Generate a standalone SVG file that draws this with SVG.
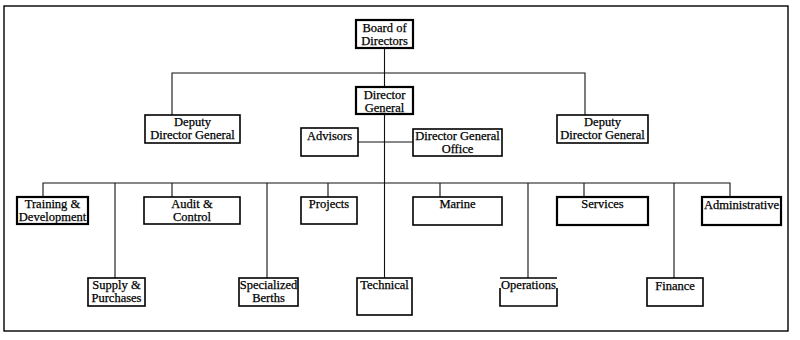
<svg xmlns="http://www.w3.org/2000/svg" width="800" height="340" viewBox="0 0 800 340">
<style>
.bx{fill:#fff;stroke:#000;stroke-width:1.6}
.thick{stroke-width:2.2}
.ln{fill:none;stroke:#111;stroke-width:1.1}
text{font-family:"Liberation Serif","Times New Roman",serif;font-size:12.5px;fill:#000;stroke:#000;stroke-width:0.25;text-anchor:middle}
</style>
<rect x="0" y="0" width="800" height="340" fill="#fff"/>
<rect x="4" y="6" width="784" height="325" fill="none" stroke="#000" stroke-width="1.4"/>
<g id="connectors" class="ln">
<path d="M384.5 48V87M172 115V73H585V115M384.5 114V278M358 142H413M43 197V183H730V197M115 183V278M172 183V197M267 183V278M328 183V197M440 183V197M528 183V278M584 183V197M674 183V278"/>
</g>
<g id="board"><rect class="bx thick" x="356" y="20" width="57" height="28"/><text x="384.5" y="32">Board of</text><text x="384.5" y="45">Directors</text></g>
<g id="dg"><rect class="bx thick" x="356" y="87" width="57" height="27"/><text x="384.5" y="99">Director</text><text x="384.5" y="112">General</text></g>
<g id="ddg-left"><rect class="bx" x="145" y="115" width="95" height="28"/><text x="192.5" y="126">Deputy</text><text x="192.5" y="139">Director General</text></g>
<g id="ddg-right"><rect class="bx" x="557" y="115" width="91" height="28"/><text x="602.5" y="126">Deputy</text><text x="602.5" y="139">Director General</text></g>
<g id="advisors"><rect class="bx" x="301" y="128" width="57" height="28"/><text x="329.5" y="140">Advisors</text></g>
<g id="dg-office"><rect class="bx" x="413" y="129" width="89" height="27"/><text x="457.5" y="140">Director General</text><text x="457.5" y="153">Office</text></g>
<g id="training"><rect class="bx thick" x="17" y="197" width="71" height="27"/><text x="52.5" y="208">Training &amp;</text><text x="52.5" y="221">Development</text></g>
<g id="audit"><rect class="bx" x="144" y="197" width="96" height="27"/><text x="192" y="208">Audit &amp;</text><text x="192" y="221">Control</text></g>
<g id="projects"><rect class="bx" x="301" y="197" width="56" height="27"/><text x="329" y="208">Projects</text></g>
<g id="marine"><rect class="bx" x="413" y="197" width="89" height="28"/><text x="457.5" y="208">Marine</text></g>
<g id="services"><rect class="bx thick" x="557" y="197" width="91" height="28"/><text x="602.5" y="208">Services</text></g>
<g id="administrative"><rect class="bx thick" x="702" y="197" width="79" height="28"/><text x="741.5" y="209">Administrative</text></g>
<g id="supply"><rect class="bx" x="88" y="278" width="57" height="28"/><text x="116.5" y="289">Supply &amp;</text><text x="116.5" y="302">Purchases</text></g>
<g id="specialized"><rect class="bx" x="239" y="278" width="59" height="28"/><text x="268.5" y="289">Specialized</text><text x="268.5" y="302">Berths</text></g>
<g id="technical"><rect class="bx" x="357" y="278" width="55" height="37"/><text x="384.5" y="289">Technical</text></g>
<g id="operations"><path fill="#fff" stroke="#000" stroke-width="1.6" d="M500 278H557M500 288V306H557V288"/><text x="528.5" y="289">Operations</text></g>
<g id="finance"><rect class="bx" x="647" y="278" width="56" height="28"/><text x="675" y="290">Finance</text></g>
</svg>
